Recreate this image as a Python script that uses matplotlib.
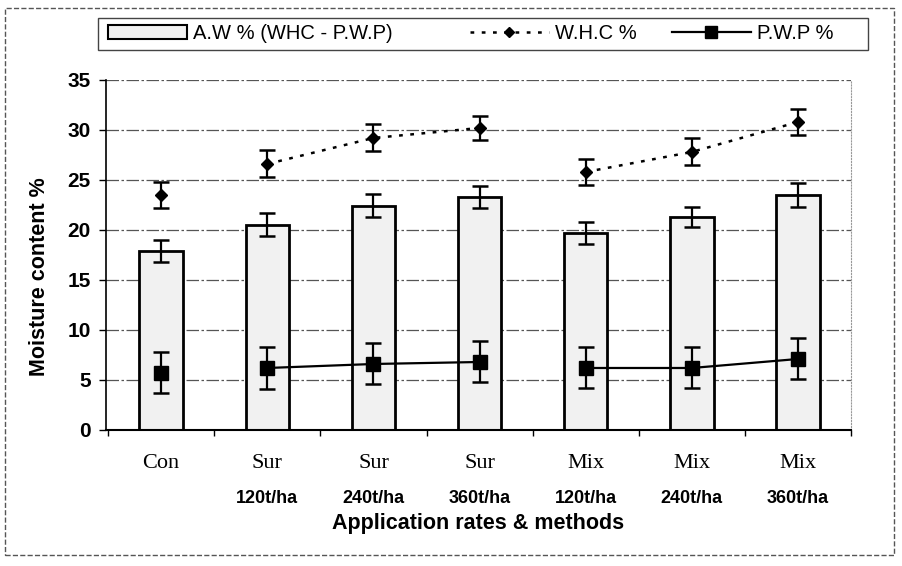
import numpy as np
import matplotlib.pyplot as plt
from matplotlib.lines import Line2D
from matplotlib.patches import Patch, Rectangle
import matplotlib.transforms as mtransforms

methods = ['Con', 'Sur', 'Sur', 'Sur', 'Mix', 'Mix', 'Mix']
rates = ['', '120t/ha', '240t/ha', '360t/ha', '120t/ha', '240t/ha', '360t/ha']

aw = [17.9, 20.5, 22.4, 23.3, 19.7, 21.3, 23.5]
aw_err = [1.1, 1.15, 1.15, 1.1, 1.1, 1.0, 1.2]
whc = [23.5, 26.6, 29.2, 30.2, 25.8, 27.8, 30.8]
whc_err = [1.3, 1.35, 1.35, 1.2, 1.3, 1.35, 1.3]
pwp = [5.7, 6.2, 6.6, 6.8, 6.2, 6.2, 7.1]
pwp_err = [2.05, 2.1, 2.05, 2.05, 2.05, 2.05, 2.05]

# line groups: control alone, surface, mixed
groups = [slice(0, 1), slice(1, 4), slice(4, 7)]

sans = 'Liberation Sans'
serif = 'Liberation Serif'

fig = plt.figure(figsize=(9.02, 5.66), dpi=100)
ax = fig.add_axes([0.1175, 0.2403, 0.826, 0.6184])

x = np.arange(len(aw))

ax.set_axisbelow(True)
ax.yaxis.grid(True, color='#555555', lw=0.9, ls=(0, (10, 2, 2, 2)))

ax.bar(x, aw, width=0.41, color='#f1f1f1', edgecolor='black', lw=2, zorder=2)
ax.errorbar(x, aw, yerr=aw_err, fmt='none', ecolor='black', elinewidth=1.6,
            capsize=5.8, capthick=1.8, zorder=3)

for g in groups:
    xs = x[g]
    ax.plot(xs, whc[g], ls=(0, (1.5, 3)), lw=1.8, color='black',
            marker='D', ms=6, zorder=4)
    ax.plot(xs, pwp[g], ls='-', lw=1.6, color='black',
            marker='s', ms=10, zorder=4)
ax.errorbar(x, whc, yerr=whc_err, fmt='none', ecolor='black', elinewidth=1.6,
            capsize=5.8, capthick=1.8, zorder=4)
ax.errorbar(x, pwp, yerr=pwp_err, fmt='none', ecolor='black', elinewidth=1.6,
            capsize=5.8, capthick=1.8, zorder=4)

ax.set_xlim(-0.52, 6.5)
ax.set_ylim(0, 35)
ax.set_yticks(np.arange(0, 36, 5))
ax.set_xticks(np.arange(-0.5, 6.6, 1.0))
ax.set_xticklabels([])
ax.tick_params(axis='x', length=4, width=1, direction='out')
ax.tick_params(axis='y', length=5, width=1, direction='out', pad=6)
for lab in ax.get_yticklabels():
    lab.set_fontfamily(sans)
    lab.set_fontweight('bold')
    lab.set_fontsize(15)

ax.spines['top'].set_visible(False)
ax.spines['right'].set_color('#999999')
ax.spines['right'].set_linestyle(':')
ax.spines['left'].set_linewidth(1.2)
ax.spines['bottom'].set_linewidth(1.5)

trans = mtransforms.blended_transform_factory(ax.transData, ax.transAxes)
for i in range(len(methods)):
    ax.text(x[i], -0.097, methods[i], transform=trans, ha='center', va='center',
            fontfamily=serif, fontsize=16)
    if rates[i]:
        ax.text(x[i], -0.197, rates[i], transform=trans, ha='center', va='center',
                fontfamily=sans, fontweight='bold', fontsize=13)

ax.set_xlabel('Application rates & methods', fontfamily=sans, fontweight='bold',
              fontsize=15.5, va='center')
ax.xaxis.set_label_coords(0.5, -0.266)
ax.set_ylabel('Moisture content %', fontfamily=sans, fontweight='bold',
              fontsize=15.5)
ax.yaxis.set_label_coords(-0.075, 0.437)

# legend: one entry per box so the entries sit where they do in the original
handles = [
    Patch(facecolor='#f1f1f1', edgecolor='black', lw=1.5),
    Line2D([], [], color='black', ls=(0, (1.5, 3)), lw=1.8, marker='D', ms=5),
    Line2D([], [], color='black', ls='-', lw=1.6, marker='s', ms=8),
]
labels = ['A.W % (WHC - P.W.P)', 'W.H.C %', 'P.W.P %']
starts = [108, 470, 672]
for h, l, sx in zip(handles, labels, starts):
    fig.legend([h], [l], loc='center left', bbox_to_anchor=(sx / 902, 0.94),
               frameon=False, prop={'family': sans, 'size': 14.5},
               handlelength=3.9, handletextpad=0.3, borderpad=0, borderaxespad=0)
fig.patches.append(Rectangle((98 / 902, 1 - 50 / 566), 770 / 902, 32 / 566,
                             transform=fig.transFigure, fill=False,
                             edgecolor='#444444', lw=1))

fig.patches.append(Rectangle((0.006, 0.02), 0.985, 0.965, transform=fig.transFigure,
                             fill=False, edgecolor='#555555', lw=1, ls='--'))

fig.savefig('out.png', dpi=100)
